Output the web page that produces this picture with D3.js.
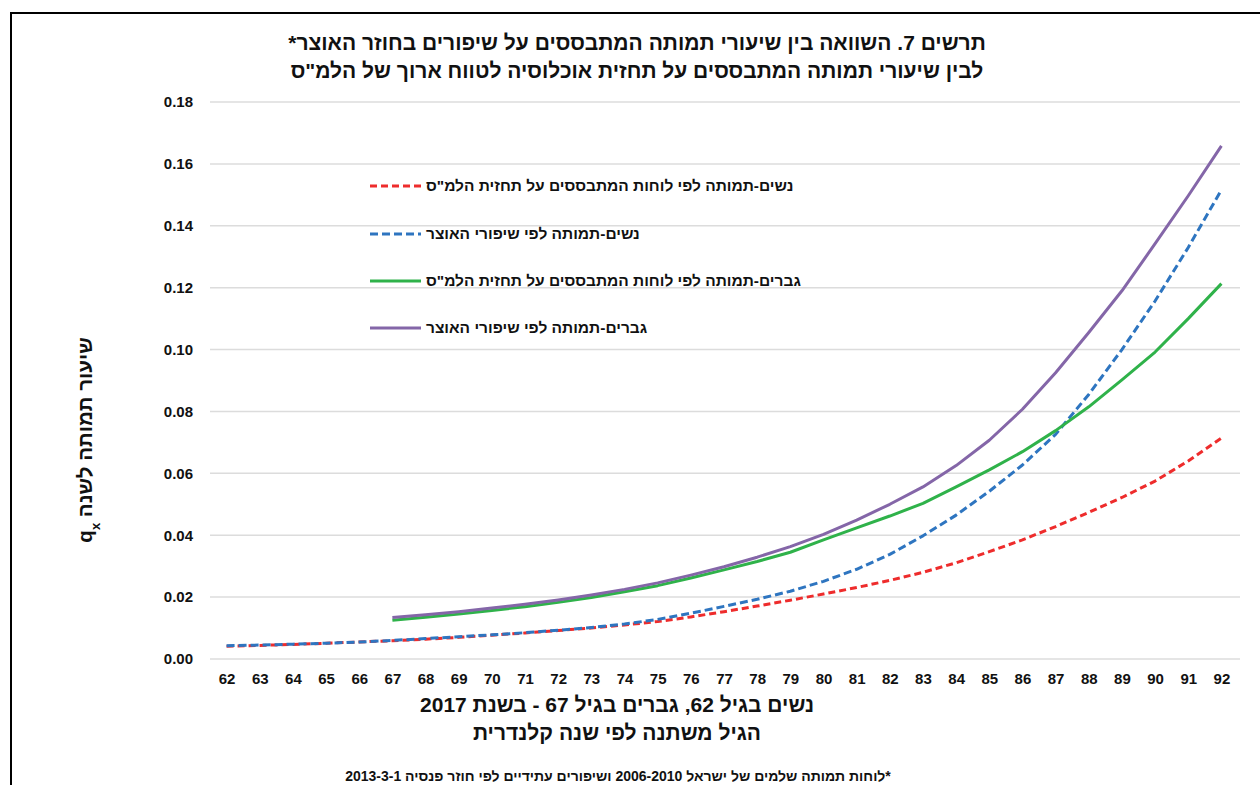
<!DOCTYPE html>
<html lang="he">
<head>
<meta charset="utf-8">
<script src="https://cdn.jsdelivr.net/npm/d3@7"></script>
<style>
    body { margin: 0; background: #fff; }
    svg { display: block; font-family: "Liberation Sans", Arial, "DejaVu Sans", sans-serif; }
</style>
</head>
<body>
<div id="container"></div>
<script>
// ages on the x axis
const ages = d3.range(62, 93);
const menAges = d3.range(67, 93);

// women, life tables based on CBS projection (red dashed)
const womenCbs = [0.0041, 0.0044, 0.0047, 0.0051, 0.0055, 0.0059, 0.0064, 0.0070, 0.0077, 0.0084,
    0.0092, 0.0100, 0.0110, 0.0121, 0.0136, 0.0153, 0.0171, 0.0190, 0.0210, 0.0231,
    0.0254, 0.0280, 0.0311, 0.0347, 0.0385, 0.0428, 0.0474, 0.0522, 0.0575, 0.0640, 0.0714];
// women, treasury improvements (blue dashed)
const womenTreasury = [0.0043, 0.0045, 0.0048, 0.0051, 0.0055, 0.0060, 0.0066, 0.0072, 0.0078, 0.0085,
    0.0093, 0.0102, 0.0113, 0.0128, 0.0148, 0.0170, 0.0193, 0.0219, 0.0251, 0.0290,
    0.0338, 0.0398, 0.0465, 0.0542, 0.0627, 0.0726, 0.0855, 0.1000, 0.1157, 0.1330, 0.1516];
// men, life tables based on CBS projection (green)
const menCbs = [0.0125, 0.0135, 0.0145, 0.0157, 0.0169, 0.0183, 0.0199, 0.0217, 0.0237, 0.0262,
    0.0288, 0.0315, 0.0345, 0.0385, 0.0424, 0.0462, 0.0503, 0.0556, 0.0611, 0.0670,
    0.0738, 0.0815, 0.0902, 0.0992, 0.1100, 0.1213];
// men, treasury improvements (purple)
const menTreasury = [0.0134, 0.0143, 0.0153, 0.0165, 0.0177, 0.0191, 0.0207, 0.0225, 0.0246, 0.0271,
    0.0298, 0.0329, 0.0363, 0.0403, 0.0449, 0.0500, 0.0556, 0.0625, 0.0707, 0.0807,
    0.0925, 0.1055, 0.1190, 0.1342, 0.1497, 0.1658];

const yTicks = [0, 0.02, 0.04, 0.06, 0.08, 0.10, 0.12, 0.14, 0.16, 0.18];

const legendLabels = [
    'נשים-תמותה לפי לוחות המתבססים על תחזית הלמ"ס',
    'נשים-תמותה לפי שיפורי האוצר',
    'גברים-תמותה לפי לוחות המתבססים על תחזית הלמ"ס',
    'גברים-תמותה לפי שיפורי האוצר'
];

const titleLines = [
    'תרשים 7. השוואה בין שיעורי תמותה המתבססים על שיפורים בחוזר האוצר*',
    'לבין שיעורי תמותה המתבססים על תחזית אוכלוסיה לטווח ארוך של הלמ"ס'
];
const xTitleLines = [
    'נשים בגיל 62, גברים בגיל 67 - בשנת 2017',
    'הגיל משתנה לפי שנה קלנדרית'
];
const footnote = '*לוחות תמותה שלמים של ישראל 2006-2010 ושיפורים עתידיים לפי חוזר פנסיה 2013-3-1';

const series = [
    { ages: ages, values: womenCbs, color: "#ee2c2c", dash: "7,4" },
    { ages: ages, values: womenTreasury, color: "#2e75c0", dash: "8,4" },
    { ages: menAges, values: menCbs, color: "#2fb24a", dash: null },
    { ages: menAges, values: menTreasury, color: "#8466a8", dash: null }
];

const width = 1260;
const height = 785;

const svg = d3.select("#container").append("svg")
    .attr("width", width)
    .attr("height", height);

// outer frame (cut off at right and bottom like the picture)
svg.append("rect")
    .attr("x", 11).attr("y", 13)
    .attr("width", 1300).attr("height", 900)
    .attr("fill", "none")
    .attr("stroke", "#000")
    .attr("stroke-width", 2);

// Declare the x scale.
const x = d3.scalePoint()
    .domain(ages)
    .range([210, 1238])
    .padding(0.5);

// Declare the y scale.
const y = d3.scaleLinear()
    .domain([0, 0.18])
    .range([659, 102]);

// grid lines
svg.append("g")
    .selectAll("line")
    .data(yTicks)
    .join("line")
    .attr("x1", 210).attr("x2", 1240)
    .attr("y1", d => y(d)).attr("y2", d => y(d))
    .attr("stroke", "#dcdcdc")
    .attr("stroke-width", 1.5);

// y axis labels
const yAxis = svg.append("g")
    .attr("transform", "translate(193,0)")
    .call(d3.axisLeft(y).tickValues(yTicks).tickFormat(d3.format(".2f")).tickSize(0).tickPadding(0));
yAxis.select(".domain").remove();
yAxis.selectAll("text")
    .attr("font-family", "Liberation Sans, Arial, sans-serif")
    .attr("font-size", 15)
    .attr("font-weight", "bold")
    .attr("fill", "#111");

// x axis labels
const xAxis = svg.append("g")
    .attr("transform", "translate(0,670)")
    .call(d3.axisBottom(x).tickSize(0).tickPadding(3));
xAxis.select(".domain").remove();
xAxis.selectAll("text")
    .attr("font-family", "Liberation Sans, Arial, sans-serif")
    .attr("font-size", 15)
    .attr("font-weight", "bold")
    .attr("fill", "#111");

// lines
const line = d3.line()
    .x(d => x(d[0]))
    .y(d => y(d[1]));

series.forEach(s => {
    svg.append("path")
        .datum(d3.zip(s.ages, s.values))
        .attr("fill", "none")
        .attr("stroke", s.color)
        .attr("stroke-width", 3)
        .attr("stroke-dasharray", s.dash)
        .attr("stroke-linejoin", "round")
        .attr("d", line);
});

// legend
const legendY = [186, 234, 281, 328];
const legend = svg.append("g");
series.forEach((s, i) => {
    legend.append("line")
        .attr("x1", 370).attr("x2", 421)
        .attr("y1", legendY[i]).attr("y2", legendY[i])
        .attr("stroke", s.color)
        .attr("stroke-width", 3)
        .attr("stroke-dasharray", s.dash);
    legend.append("text")
        .attr("x", 426).attr("y", legendY[i] + 5)
        .attr("direction", "rtl")
        .attr("text-anchor", "end")
        .attr("font-size", 15.5)
        .attr("font-weight", "bold")
        .attr("fill", "#111")
        .text(legendLabels[i]);
});

// title
svg.append("g")
    .selectAll("text")
    .data(titleLines)
    .join("text")
    .attr("x", 637)
    .attr("y", (d, i) => 50 + i * 28)
    .attr("direction", "rtl")
    .attr("text-anchor", "middle")
    .attr("font-size", 21)
    .attr("font-weight", "bold")
    .attr("fill", "#111")
    .text(d => d);

// x axis title
svg.append("g")
    .selectAll("text")
    .data(xTitleLines)
    .join("text")
    .attr("x", 617)
    .attr("y", (d, i) => 712 + i * 28)
    .attr("direction", "rtl")
    .attr("text-anchor", "middle")
    .attr("font-size", 21)
    .attr("font-weight", "bold")
    .attr("fill", "#111")
    .text(d => d);

// y axis title, rotated
const yTitle = svg.append("text")
    .attr("transform", "translate(92,440) rotate(-90)")
    .attr("direction", "rtl")
    .attr("text-anchor", "middle")
    .attr("font-size", 20.5)
    .attr("font-weight", "bold")
    .attr("fill", "#111");
yTitle.append("tspan").text("שיעור תמותה לשנה ");
yTitle.append("tspan").text("q");
yTitle.append("tspan").attr("font-size", 13).attr("baseline-shift", "sub").text("x");

// footnote
svg.append("text")
    .attr("x", 618).attr("y", 781)
    .attr("direction", "rtl")
    .attr("text-anchor", "middle")
    .attr("font-size", 14)
    .attr("font-weight", "bold")
    .attr("fill", "#111")
    .text(footnote);
</script>
</body>
</html>
